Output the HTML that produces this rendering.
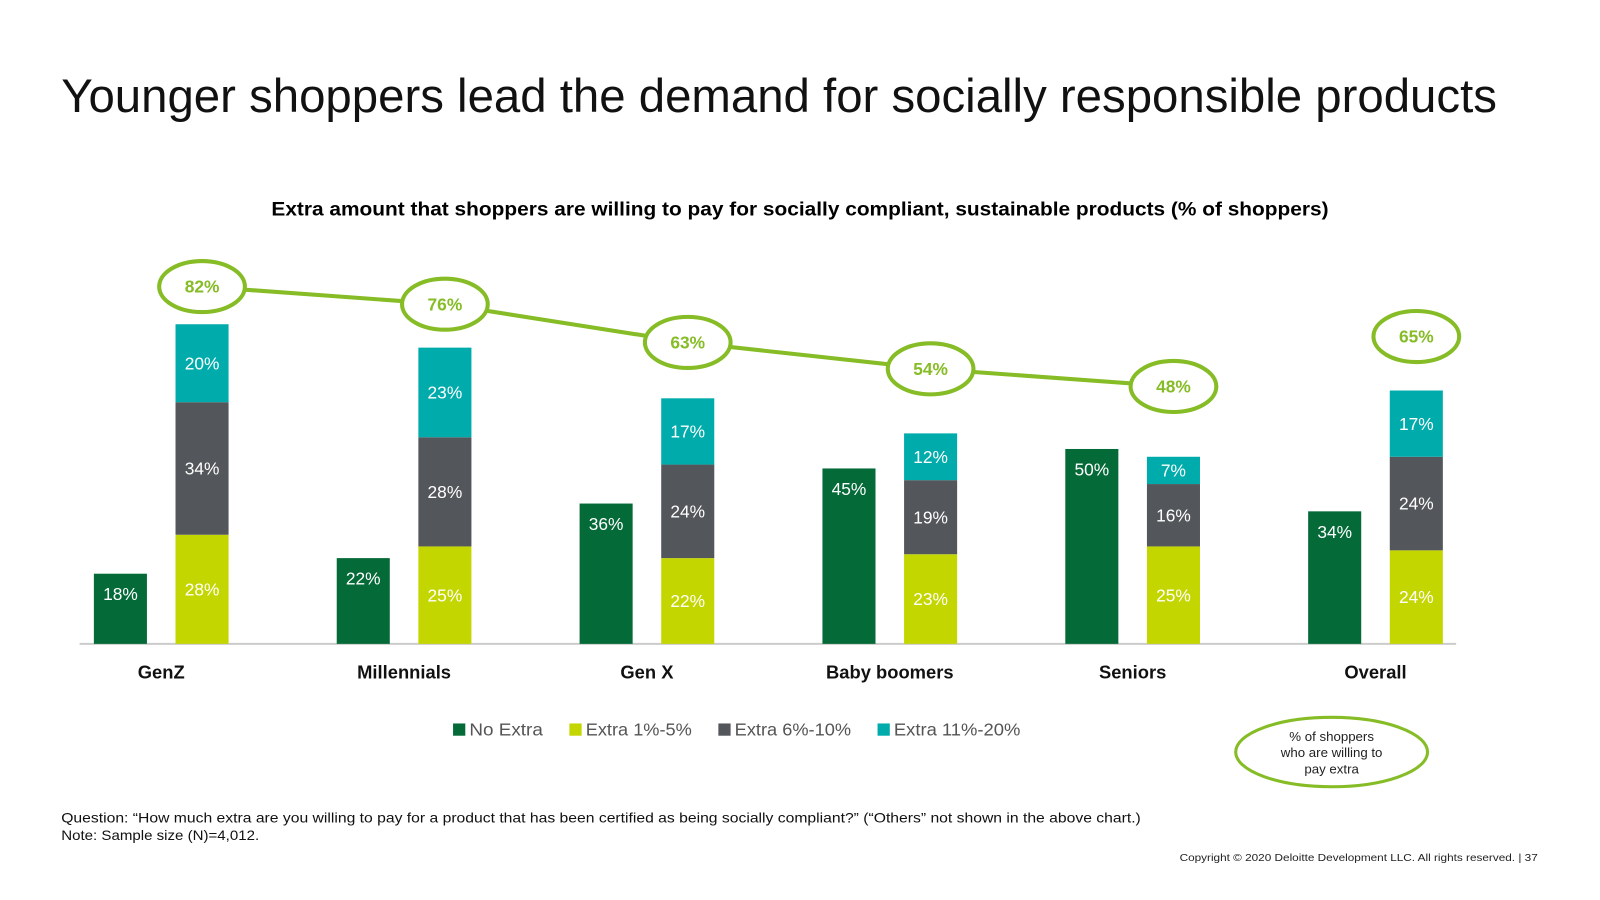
<!DOCTYPE html>
<html><head><meta charset="utf-8">
<style>
body{margin:0;background:#fff;}
svg{display:block;font-family:"Liberation Sans",sans-serif;}
</style></head><body>
<svg id="chart" width="1600" height="900" viewBox="0 0 1600 900">
<g transform="scale(1.0204)">
<text x="60" y="110" font-size="46" font-weight="300" fill="#111" textLength="1407" lengthAdjust="spacingAndGlyphs">Younger shoppers lead the demand for socially responsible products</text>
<text x="784" y="211" font-size="19" font-weight="bold" text-anchor="middle" fill="#000" textLength="1036" lengthAdjust="spacingAndGlyphs">Extra amount that shoppers are willing to pay for socially compliant, sustainable products (% of shoppers)</text>
<line x1="78" y1="631" x2="1427" y2="631" stroke="#ccc" stroke-width="2"/>
<g id="bars"></g>
<g id="line"></g>
<g font-size="17" fill="#555">
<rect x="444" y="709" width="12" height="12" fill="#046a38"/><text x="460" y="721" textLength="72" lengthAdjust="spacingAndGlyphs">No Extra</text>
<rect x="558" y="709" width="12" height="12" fill="#c4d600"/><text x="574" y="721" textLength="104" lengthAdjust="spacingAndGlyphs">Extra 1%-5%</text>
<rect x="704" y="709" width="12" height="12" fill="#53565a"/><text x="720" y="721" textLength="114" lengthAdjust="spacingAndGlyphs">Extra 6%-10%</text>
<rect x="860" y="709" width="12" height="12" fill="#00abab"/><text x="876" y="721" textLength="124" lengthAdjust="spacingAndGlyphs">Extra 11%-20%</text>
</g>
<ellipse cx="1305" cy="737" rx="94" ry="34" fill="none" stroke="#86bc25" stroke-width="3"/>
<text x="1305" y="726" font-size="13" text-anchor="middle" fill="#222">% of shoppers</text>
<text x="1305" y="742" font-size="13" text-anchor="middle" fill="#222">who are willing to</text>
<text x="1305" y="758" font-size="13" text-anchor="middle" fill="#222">pay extra</text>
<text x="60" y="806" font-size="13.5" fill="#111" textLength="1058" lengthAdjust="spacingAndGlyphs">Question: “How much extra are you willing to pay for a product that has been certified as being socially compliant?” (“Others” not shown in the above chart.)</text>
<text x="60" y="823" font-size="13.5" fill="#111" textLength="194" lengthAdjust="spacingAndGlyphs">Note: Sample size (N)=4,012.</text>
<text x="1156" y="844" font-size="10" fill="#222" textLength="351" lengthAdjust="spacingAndGlyphs">Copyright © 2020 Deloitte Development LLC. All rights reserved.  |   37</text>
</g>
</svg>
<script>
const categories=["GenZ","Millennials","Gen X","Baby boomers","Seniors","Overall"];
const noExtra=[18,22,36,45,50,34];
const extra1to5=[28,25,22,23,25,24];
const extra6to10=[34,28,24,19,16,24];
const extra11to20=[20,23,17,12,7,17];
const willingPct=[82,76,63,54,48,65];
const NS="http://www.w3.org/2000/svg";
const base=631,scale=3.82,bw=52;
function xg(i){return 92+i*238;}
function yv(v){return base-v*scale;}
function yl(v){return 517-v*2.88;}
function mk(tag,attrs,parent){const e=document.createElementNS(NS,tag);for(const k in attrs)e.setAttribute(k,attrs[k]);parent.appendChild(e);return e;}
const bars=document.getElementById('bars');
const line=document.getElementById('line');
categories.forEach((c,i)=>{
  const x=xg(i);
  const r=mk('rect',{x:x,y:yv(noExtra[i]),width:bw,height:noExtra[i]*scale,fill:'#046a38'},bars);
  
  
  const t=mk('text',{x:x+bw/2,y:yv(noExtra[i])+26,'font-size':17,fill:'#fff','text-anchor':'middle'},bars);t.textContent=noExtra[i]+'%';
  
  
  const segs=[[extra1to5,'#c4d600','bar-extra-1-5'],[extra6to10,'#53565a','bar-extra-6-10'],[extra11to20,'#00abab','bar-extra-11-20']];
  let cum=0;
  segs.forEach(s=>{
    const v=s[0][i];
    const y0=yv(cum+v);
    const rr=mk('rect',{x:x+80,y:y0,width:bw,height:v*scale,fill:s[1]},bars);
    
    
    const tt=mk('text',{x:x+80+bw/2,y:y0+v*scale/2+6,'font-size':17,fill:'#fff','text-anchor':'middle'},bars);tt.textContent=v+'%';
    
    
    cum+=v;
  });
  const ct=mk('text',{x:x+66,y:665,'font-size':18,'font-weight':'bold',fill:'#111','text-anchor':'middle'},bars);ct.textContent=c;
  
  
});
let pts=[];
for(let i=0;i<5;i++)pts.push((xg(i)+106)+','+yl(willingPct[i]));
const pl=mk('polyline',{points:pts.join(' '),fill:'none',stroke:'#86bc25','stroke-width':4},line);


willingPct.forEach((v,i)=>{
  const cx=xg(i)+106,cy=yl(v);
  const e=mk('ellipse',{cx:cx,cy:cy,rx:42,ry:25,fill:'#fff',stroke:'#86bc25','stroke-width':4},line);
  
  
  const t=mk('text',{x:cx,y:cy+6,'font-size':17,'font-weight':'bold',fill:'#86bc25','text-anchor':'middle'},line);t.textContent=v+'%';
  
  
});
</script>
</body></html>
